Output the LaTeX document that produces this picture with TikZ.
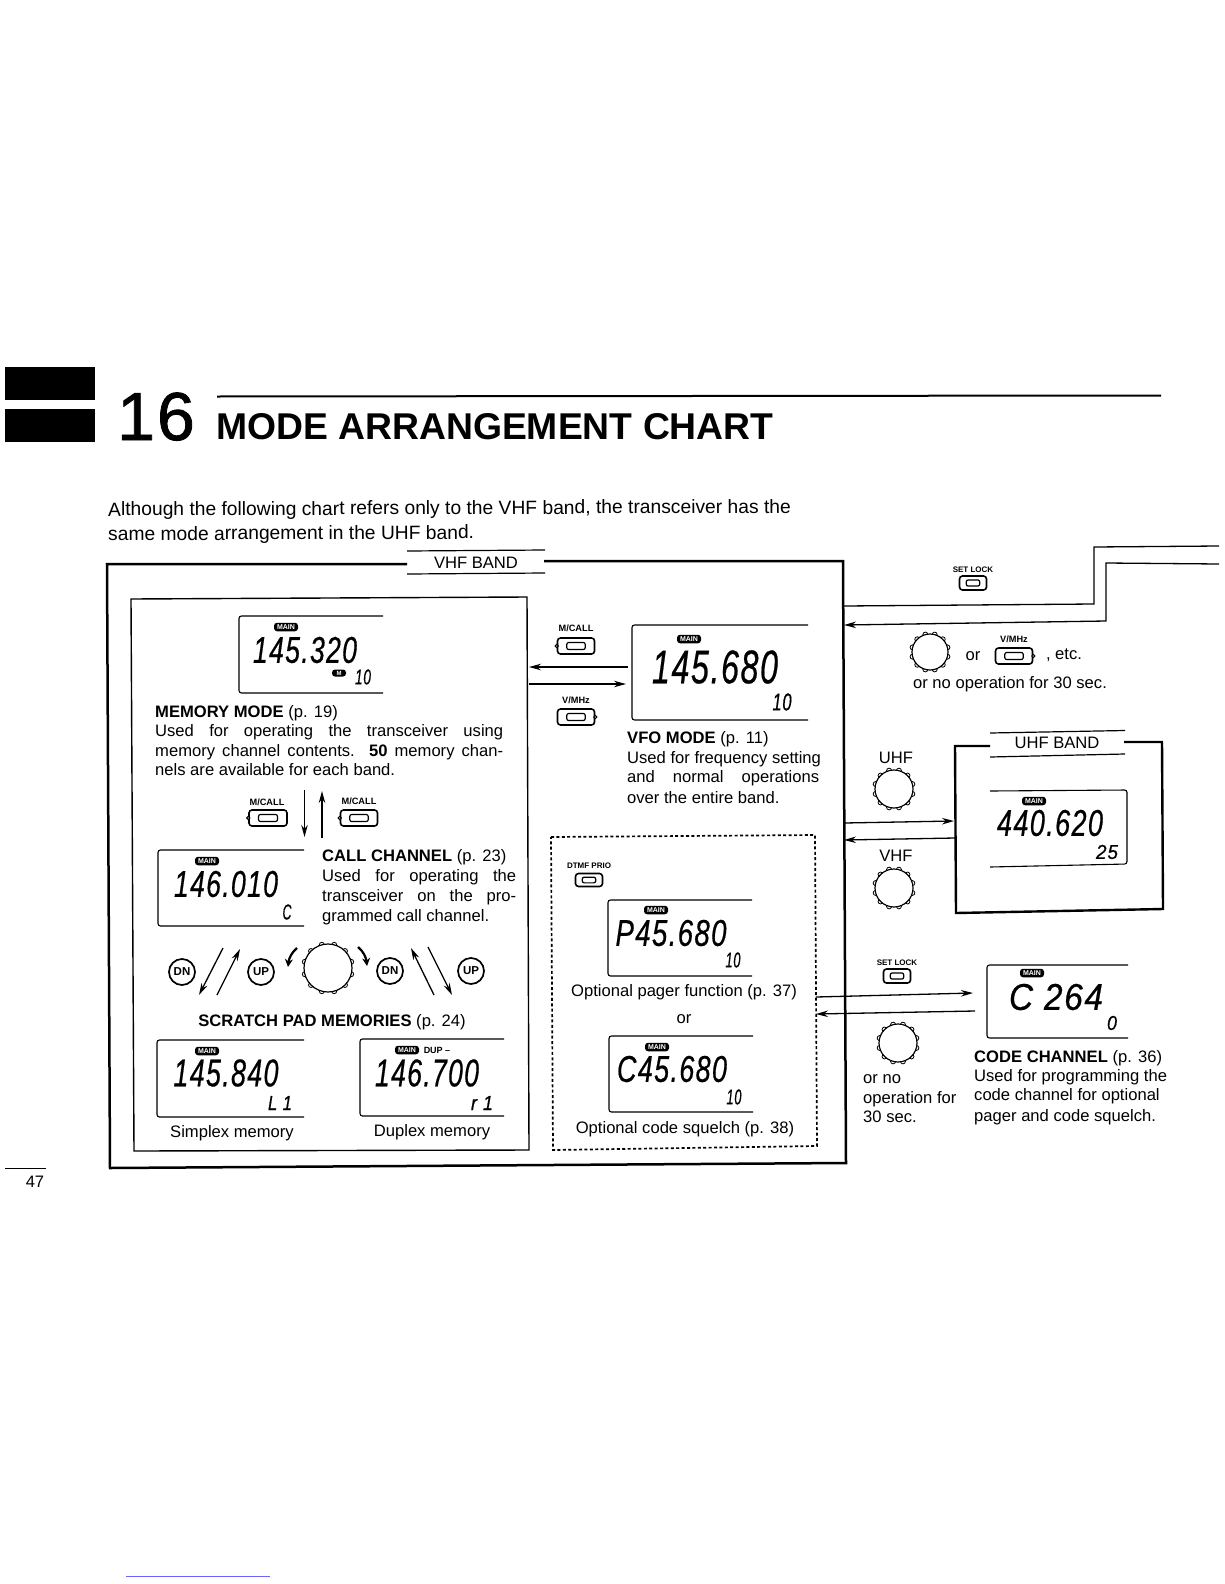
\documentclass[tikz,border=0pt]{standalone}
\usepackage{fontspec}
\usepackage{graphicx}
\setmainfont{Liberation Sans}
\usetikzlibrary{arrows.meta,calc}
\newcommand\fsz[1]{\fontsize{#1}{#1}\selectfont}
\newcommand\lcdface{\fontsize{40}{40}\selectfont\itshape\addfontfeature{LetterSpace=5,FakeBold=0.6}}
% LCD digits scaled to a measured width and height
\newcommand\lcdnum[6]{\node[inner sep=0pt] (#1) at (#2,#3) {\resizebox{#4pt}{#5pt}{\lcdface #6}};}
% rocker button: name,x,y,w,h
\newcommand\btn[5]{%
  \node[btnouter,minimum width=#4pt,minimum height=#5pt] (#1) at (#2,#3) {};
  \node[btninner,minimum width=.5*#4pt,minimum height=.44*#5pt] (#1in) at (#2,#3) {};}
\newcommand\knobdial[4]{%
  \foreach \kang in {15,45,...,345}{\draw[knobline,fill=white] ($(#2,#3)+(\kang:#4)$) circle (2.5);}
  \node[knobface,minimum size=#4*2pt] (#1) at (#2,#3) {};}
\tikzset{
  x=1pt,y=-1pt,
  conn/.style={line width=1.3pt,-{Stealth[length=12pt,width=6.5pt]}},
  plainline/.style={line width=1.3pt},
  bigbox/.style={line width=2.5pt,line join=miter},
  innerbox/.style={line width=1.4pt},
  lcdbox/.style={line width=1.1pt,rounded corners=2.5pt},
  optbox/.style={line width=1.7pt,dash pattern=on 3pt off 2.4pt},
  btnouter/.style={draw,line width=1.6pt,rounded corners=3pt,inner sep=0pt,fill=white},
  btninner/.style={draw,line width=1.2pt,rounded corners=2pt,inner sep=0pt},
  knobline/.style={line width=.8pt},
  knobface/.style={draw,circle,line width=1.2pt,fill=white,inner sep=0pt},
  badge/.style={fill=black,text=white,rounded corners=3pt,inner sep=0pt,minimum width=24pt,minimum height=8.5pt,font=\fsz{7}\bfseries},
  bodytxt/.style={inner sep=0pt,text height=11pt,text depth=0pt,font=\fsz{16.6}},
  smalllab/.style={inner sep=0pt,text height=6.5pt,text depth=0pt,font=\fsz{9.2}\bfseries},
  tinylab/.style={inner sep=0pt,text height=6pt,text depth=0pt,font=\fsz{8}\bfseries},
  circbtn/.style={draw,circle,line width=1.7pt,inner sep=0pt,minimum size=26pt,font=\fsz{11.5}\bfseries},
  lineartxt/.style={anchor=west},
}
\begin{document}
\begin{tikzpicture}
\useasboundingbox (0,0) rectangle (1224,1584);
\fill[white] (0,0) rectangle (1224,1584);

% ---- page heading
\fill[black] (5,367) rectangle (95,400);
\fill[black] (5,409) rectangle (95,442);
\node[inner sep=0pt,anchor=base west] (chapnum) at (117,440) {\fsz{68}\addfontfeature{FakeBold=1.2}1\kern2pt 6};
\coordinate (ruleL) at (217,396.5);
\coordinate (ruleR) at (1161,395.5);
\draw[line width=2pt] (ruleL) -- (ruleR);
\node[inner sep=0pt,anchor=base west] (title) at (216,439) {\fsz{37.3}\bfseries MODE ARRANGEMENT CHART};
\node[bodytxt,lineartxt,rotate=.25,font=\fsz{19.25}] (intro1) at (108,510.5) {Although the following chart refers only to the VHF band, the transceiver has the};
\node[bodytxt,lineartxt,rotate=.25,font=\fsz{19.25}] (intro2) at (108,535) {same mode arrangement in the UHF band.};

% ---- VHF outer box
\draw[bigbox] (407,564) -- (107,564) -- (110,1168) -- (846,1163) -- (843,561) -- (544,561);
\draw[line width=1.2pt] (407,551) -- (545,550);
\draw[line width=1.2pt] (407,574) -- (545,573);
\node[bodytxt] (vhfband) at (476,563) {VHF BAND};

% ---- memory box
\draw[innerbox] (131,599) -- (527,597) -- (529,1150) -- (134,1151) -- cycle;

% memory mode
\draw[lcdbox] (383,616) -- (239,616) -- (239,693) -- (383,693);
\node[badge] (m1main) at (286,627) {MAIN};
\lcdnum{m1num}{305}{650}{104}{26}{145.320}
\node[badge,minimum width=14pt,minimum height=7pt,font=\fsz{6}\bfseries] (m1m) at (339,673) {M};
\lcdnum{m1ch}{363}{677}{16}{15}{10}
\node[bodytxt,lineartxt] (memt) at (155,712) {\textbf{MEMORY MODE} (p. 19)};
\node[bodytxt,lineartxt] (mem1) at (155,731) {\makebox[348pt][s]{Used for operating the transceiver using}};
\node[bodytxt,lineartxt] (mem2) at (155,750.5) {\makebox[348pt][s]{memory channel contents.\ \ \textbf{50} memory chan-}};
\node[bodytxt,lineartxt] (mem3) at (155,770) {nels are available for each band.};

\node[smalllab] (mc1l) at (267,802) {M/CALL};
\btn{mc1}{268}{818}{38}{16}
\draw[line width=1pt,fill=white] (mc1.west) circle (1.6);
\node[smalllab] (mc2l) at (359,801) {M/CALL};
\btn{mc2}{359}{818}{37}{16}
\draw[line width=1pt,fill=white] (mc2.west) circle (1.6);
\coordinate (dn1a) at (304.5,790); \coordinate (dn1b) at (304.5,837);
\coordinate (up1a) at (322,838); \coordinate (up1b) at (322,791);
\draw[conn] (dn1a) -- (dn1b);
\draw[conn] (up1a) -- (up1b);

% call channel
\draw[lcdbox] (304,850) -- (158,850) -- (158,926) -- (304,926);
\node[badge] (c1main) at (207,861) {MAIN};
\lcdnum{c1num}{226}{884}{104}{26}{146.010}
\lcdnum{c1ch}{287}{912}{9}{15}{C}
\node[bodytxt,lineartxt] (callt) at (322,856) {\textbf{CALL CHANNEL} (p. 23)};
\node[bodytxt,lineartxt] (call1) at (322,876) {\makebox[194pt][s]{Used for operating the}};
\node[bodytxt,lineartxt] (call2) at (322,896) {\makebox[194pt][s]{transceiver on the pro-}};
\node[bodytxt,lineartxt] (call3) at (322,916) {grammed call channel.};

% scratch pad row
\node[circbtn] (dn1) at (182,972) {DN};
\node[circbtn] (up1) at (261,972) {UP};
\node[circbtn] (dn2) at (390,971) {DN};
\node[circbtn] (up2) at (471,971) {UP};
\coordinate (sa1) at (223,948); \coordinate (sa2) at (199,995);
\coordinate (sb1) at (217,995); \coordinate (sb2) at (240,949);
\coordinate (sc1) at (434,995); \coordinate (sc2) at (411,948);
\coordinate (sd1) at (428,947); \coordinate (sd2) at (452,995);
\draw[conn] (sa1) -- (sa2);
\draw[conn] (sb1) -- (sb2);
\draw[conn] (sc1) -- (sc2);
\draw[conn] (sd1) -- (sd2);
\knobdial{kn1}{328}{968}{24}
\coordinate (ka1) at (297,948); \coordinate (ka2) at (288,967);
\coordinate (kb1) at (358,947); \coordinate (kb2) at (367,966);
\draw[line width=2.2pt,-{Stealth[length=8pt,width=8pt]}] (ka1) .. controls (292,952) and (289,958) .. (ka2);
\draw[line width=2.2pt,-{Stealth[length=8pt,width=8pt]}] (kb1) .. controls (363,951) and (366,957) .. (kb2);
\node[bodytxt] (scr) at (332,1021) {\textbf{SCRATCH PAD MEMORIES} (p. 24)};

\draw[lcdbox] (304,1040) -- (157,1040) -- (157,1117) -- (304,1117);
\node[badge] (s1main) at (207,1051) {MAIN};
\lcdnum{s1num}{226}{1073}{105}{27}{145.840}
\lcdnum{s1ch}{280}{1103}{24}{14}{L 1}
\node[bodytxt] (simp) at (232,1132) {Simplex memory};

\draw[lcdbox] (504,1039) -- (360,1039) -- (360,1116) -- (504,1116);
\node[badge] (s2main) at (407,1050) {MAIN};
\node[tinylab,font=\fsz{9}\bfseries] (dup) at (437,1050) {DUP --};
\lcdnum{s2num}{427}{1073}{104}{27}{146.700}
\lcdnum{s2ch}{482}{1103}{22}{14}{r 1}
\node[bodytxt] (dupl) at (432,1131) {Duplex memory};

% ---- VFO
\node[smalllab] (mc3l) at (576,628) {M/CALL};
\btn{mc3}{576}{646}{37}{16}
\draw[line width=1pt,fill=white] (mc3.west) circle (1.6);
\node[smalllab] (vm1l) at (576,700) {V/MHz};
\btn{vm1}{576}{717}{37}{16}
\draw[line width=1pt,fill=white] (vm1.east) circle (1.6);
\draw[lcdbox] (808,625) -- (632,625) -- (632,720) -- (808,720);
\node[badge] (v1main) at (689,639) {MAIN};
\lcdnum{v1num}{715}{667}{126}{33}{145.680}
\lcdnum{v1ch}{782}{702}{19}{17}{10}
\coordinate (vfoA) at (628,667); \coordinate (memA) at (529,667);
\coordinate (memB) at (529,684); \coordinate (vfoB) at (626,684);
\draw[conn] (vfoA) -- (memA);
\draw[conn] (memB) -- (vfoB);
\node[bodytxt,lineartxt] (vfot) at (627,738) {\textbf{VFO MODE} (p. 11)};
\node[bodytxt,lineartxt] (vfo1) at (627,758) {Used for frequency setting};
\node[bodytxt,lineartxt] (vfo2) at (627,777) {\makebox[192pt][s]{and normal operations}};
\node[bodytxt,lineartxt] (vfo3) at (627,797.5) {over the entire band.};

% ---- optional dashed box
\draw[optbox] (551,837) -- (815,835) -- (817,1146) -- (553,1150) -- cycle;
\node[tinylab] (dtmf) at (589,865) {DTMF PRIO};
\btn{dt}{589}{880}{27}{13}
\draw[lcdbox] (752,900) -- (608,900) -- (608,976) -- (752,976);
\node[badge] (p1main) at (656,910) {MAIN};
\lcdnum{p1num}{671}{933}{111}{26}{P45.680}
\lcdnum{p1ch}{733}{960}{15}{15}{10}
\node[bodytxt] (pager) at (684,991) {Optional pager function (p. 37)};
\node[bodytxt] (ortxt) at (684,1018) {or};
\draw[lcdbox] (753,1036) -- (609,1036) -- (609,1112) -- (753,1112);
\node[badge] (q1main) at (657,1047) {MAIN};
\lcdnum{q1num}{672}{1069}{110}{26}{C45.680}
\lcdnum{q1ch}{734}{1097}{15}{15}{10}
\node[bodytxt] (squelch) at (685,1128) {Optional code squelch (p. 38)};

% ---- right side, top
\coordinate (t1a) at (844,606); \coordinate (t1b) at (1094,604);
\coordinate (t1c) at (1094,547); \coordinate (t1d) at (1219,546);
\coordinate (t2d) at (1219,564); \coordinate (t2c) at (1106,563);
\coordinate (t2b) at (1106,621); \coordinate (t2a) at (844,625);
\draw[plainline] (t1a) -- (t1b) -- (t1c) -- (t1d);
\draw[conn] (t2d) -- (t2c) -- (t2b) -- (t2a);
\node[tinylab] (sl1l) at (973,569) {SET LOCK};
\btn{sl1}{973}{583}{27}{14}
\knobdial{kn2}{930}{652}{18}
\node[bodytxt] (or2) at (973,655) {or};
\node[smalllab] (vm2l) at (1014,639) {V/MHz};
\btn{vm2}{1014}{656}{37}{16}
\draw[line width=1pt,fill=white] (vm2.east) circle (1.6);
\node[bodytxt] (etc) at (1064,654) {, etc.};
\node[bodytxt] (noop1) at (1010,683) {or no operation for 30 sec.};

% ---- UHF
\node[bodytxt] (uhfl) at (896,758) {UHF};
\knobdial{kn3}{894}{789}{19}
\node[bodytxt] (vhfl) at (896,856) {VHF};
\knobdial{kn4}{894}{888}{19}
\coordinate (u1a) at (844,823); \coordinate (u1b) at (954,821);
\coordinate (u2a) at (955,838); \coordinate (u2b) at (844,840);
\draw[conn] (u1a) -- (u1b);
\draw[conn] (u2a) -- (u2b);
\draw[line width=2.4pt] (990,746) -- (955,746) -- (956,913) -- (1163,909) -- (1162,742) -- (1124,742);
\draw[line width=1.2pt] (990,733) -- (1125,730.5);
\draw[line width=1.2pt] (990,757) -- (1125,754);
\node[bodytxt] (uhfband) at (1057,743) {UHF BAND};
\draw[lcdbox] (990,791) -- (1127,790) -- (1127,864) -- (990,867);
\node[badge] (u1main) at (1034,801) {MAIN};
\lcdnum{u1num}{1050}{823}{106}{26}{440.620}
\lcdnum{u1ch}{1107}{852}{22}{14}{25}

% ---- code channel
\node[tinylab] (sl2l) at (897,962) {SET LOCK};
\btn{sl2}{897}{976}{27}{14}
\coordinate (o1a) at (816,997); \coordinate (o1b) at (973,993);
\coordinate (o2a) at (975,1011); \coordinate (o2b) at (816,1014);
\draw[conn] (o1a) -- (o1b);
\draw[conn] (o2a) -- (o2b);
\knobdial{kn5}{898}{1043}{19}
\node[bodytxt,lineartxt] (on1) at (863,1078) {or no};
\node[bodytxt,lineartxt] (on2) at (863,1097.5) {operation for};
\node[bodytxt,lineartxt] (on3) at (863,1117) {30 sec.};
\draw[lcdbox] (1128,965) -- (987,965) -- (987,1038) -- (1128,1038);
\node[badge] (k1main) at (1032,973) {MAIN};
\lcdnum{k1num}{1056}{997}{94}{26}{C 264}
\lcdnum{k1ch}{1112}{1023}{10}{14}{0}
\node[bodytxt,lineartxt] (codet) at (974,1057) {\textbf{CODE CHANNEL} (p. 36)};
\node[bodytxt,lineartxt] (code1) at (974,1076) {Used for programming the};
\node[bodytxt,lineartxt] (code2) at (974,1095) {code channel for optional};
\node[bodytxt,lineartxt] (code3) at (974,1116) {pager and code squelch.};

% ---- page foot
\coordinate (pgL) at (5,1168); \coordinate (pgR) at (46,1168);
\draw[line width=1pt] (pgL) -- (pgR);
\node[bodytxt] (pg) at (35,1182) {47};
\coordinate (blueL) at (126,1576); \coordinate (blueR) at (270,1576);
\draw[line width=.9pt,color=blue!60!white] (blueL) -- (blueR);
\end{tikzpicture}
\end{document}
